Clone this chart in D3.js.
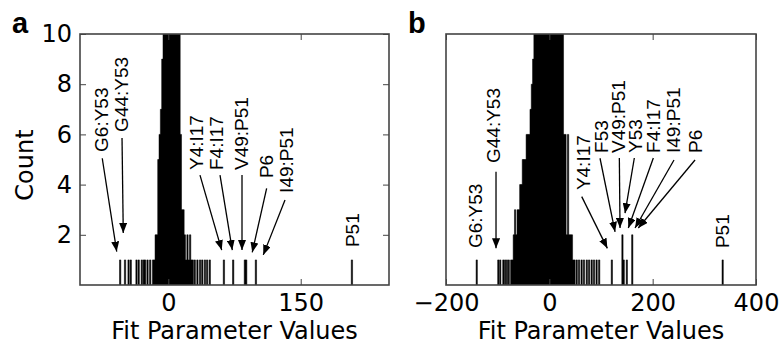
<!DOCTYPE html>
<html><head><meta charset="utf-8">
<script src="https://cdn.jsdelivr.net/npm/d3@7"></script>
<style>body{margin:0;background:#fff}svg{display:block}</style>
</head><body>
<script>
// ---------- data ----------
const yTicks = [2, 4, 6, 8, 10];
const xTicksA = [0, 150];
const xTicksB = [-200, 0, 200, 400];

// panel a histogram (bin centers / counts)
const aBinWidth = 1.5;
const aBinCenters = [-54.5, -49, -45, -42.5, -36, -33.5, -30, -27.75, -26.25, -23.5, -20.5,
  -17.25, -15.75, -14.25, -12.75, -11.25, -9.75, -8.25, -6.75,
  -5.25, -3.75, -2.25, -0.75, 0.75, 2.25, 3.75, 5.25, 6.75, 8.25, 9.75, 11.25, 12.75,
  14.25, 15.75, 17.25, 18.75, 20.25, 21.75, 23.25, 24.75, 26.25, 27.75,
  30, 33, 36, 38.5, 41.5, 44, 47,
  63, 73.5, 86.75, 88.25, 99.25, 208];
const aBinCounts = [1, 1, 1, 1, 1, 1, 1, 1, 1, 1, 1,
  1, 1, 2, 2, 5, 6, 7, 9,
  12, 16, 21, 26, 30, 33, 34, 32, 28, 23, 18, 14, 11,
  6, 3, 3, 2, 1, 2, 1, 2, 1, 1,
  1, 1, 1, 1, 1, 1, 1,
  1, 1, 1, 1, 1, 1];

// panel b histogram
const bBinWidth = 2.5;
const bBinCenters = [-140.5, -98.75, -95, -89, -85.5, -82, -78.5,
  -73.75, -71.25, -68.75, -66.25, -63.75, -61.25, -58.75, -56.25, -53.75, -51.25, -48.75, -46.25,
  -43.75, -41.25, -38.75, -36.25, -33.75, -31.25,
  -28.75, -26.25, -23.75, -21.25, -18.75, -16.25, -13.75, -11.25, -8.75, -6.25, -3.75, -1.25,
  1.25, 3.75, 6.25, 8.75, 11.25, 13.75, 16.25, 18.75, 21.25, 23.75, 26.25,
  28.75, 31.25, 33.75, 36.25, 38.75, 41.25, 43.75, 46.25, 48.75,
  53, 57.5, 62.5, 67, 72.5, 77, 82, 86.5, 91.5, 96.5,
  121, 141.5, 144, 150, 160.5, 335.5];
const bBinCounts = [1, 1, 1, 1, 1, 1, 1,
  1, 1, 2, 3, 2, 3, 3, 4, 4, 5, 5, 5,
  6, 6, 6, 7, 8, 9,
  11, 12, 14, 16, 19, 22, 25, 28, 31, 34, 36, 37,
  36, 34, 31, 28, 25, 22, 19, 16, 14, 12, 11,
  6, 6, 2, 6, 2, 2, 2, 1, 1,
  1, 1, 1, 1, 1, 1, 1, 1, 1, 1,
  1, 2, 1, 1, 2, 1];

// annotations (data coordinates: text bottom point, arrow start, arrow end)
const aNoteLabels = ["G6:Y53", "G44:Y53", "Y4:I17", "F4:I17", "V49:P51", "P6", "I49:P51", "P51"];
const aNoteText = [[-75.4, 5.3], [-52.8, 6.1], [32.2, 4.58], [54.8, 4.58], [83.1, 4.58], [111.4, 4.26], [134.1, 3.67], [208.4, 1.51]];
const aNoteArrows = [[[-74.8, 5.05], [-58.4, 1.33]], [[-52.4, 5.86], [-51, 2.07]], [[35.9, 4.38], [60.5, 1.39]],
  [[58.6, 4.38], [72.5, 1.39]], [[83.5, 4.38], [83.5, 1.39]], [[111.4, 3.85], [95.1, 1.3]], [[132.2, 3.39], [107.6, 1.2]], null];

const bNoteLabels = ["G6:Y53", "G44:Y53", "Y4:I17", "F53", "V49:P51", "Y53", "F4:I17", "I49:P51", "P6", "P51"];
const bNoteText = [[-143.8, 1.47], [-108.4, 4.86], [65.8, 3.78], [101.4, 5.26], [133.5, 5.26], [165.9, 5.26], [201.3, 5.26], [240, 5.26], [282, 5.26], [335.6, 1.47]];
const bNoteArrows = [null, [[-103.2, 4.51], [-103.2, 1.46]], [[62.7, 3.52], [112.3, 1.46]], [[98.1, 5.05], [127.2, 2.12]],
  [[135.5, 5.06], [136.8, 2.27]], [[164.5, 5.06], [146.5, 2.86]], [[201.3, 5.06], [152.9, 2.27]],
  [[241.3, 4.98], [165.9, 2.27]], [[282, 4.98], [172.2, 2.27]], null];

// ---------- drawing ----------
const W = 779, H = 346;
const svg = d3.select("body").append("svg").attr("width", W).attr("height", H);
const defs = svg.append("defs");
defs.append("marker").attr("id", "ah").attr("viewBox", "0 0 10 8").attr("refX", 10).attr("refY", 4)
  .attr("markerWidth", 10).attr("markerHeight", 8).attr("markerUnits", "userSpaceOnUse").attr("orient", "auto")
  .append("path").attr("d", "M0,0L10,4L0,8Z").attr("fill", "#000");

const TICKFONT = "DejaVu Sans, sans-serif";
const NOTEFONT = "Liberation Sans, Arial, sans-serif";
const FS = 24;
const NFS = 19;
const y = d3.scaleLinear().domain([0, 10]).range([285, 34]);

function panel(id, xDomain, xRange, xTicks, centers, counts, bw, labels, texts, arrows, showY) {
  const x = d3.scaleLinear().domain(xDomain).range(xRange);
  const g = svg.append("g");
  defs.append("clipPath").attr("id", "clip" + id).append("rect")
    .attr("x", xRange[0]).attr("y", y(10)).attr("width", xRange[1] - xRange[0]).attr("height", y(0) - y(10));
  // all histogram bars as one path (no anti-aliasing seams between neighbouring bins)
  const barsD = centers.map((c, i) => {
    const x0 = x(c - bw / 2), x1 = x(c + bw / 2), y1 = y(counts[i]), y0 = y(0);
    return `M${x0},${y0}V${y1}H${x1}V${y0}Z`;
  }).join("");
  g.append("g").attr("clip-path", `url(#clip${id})`).append("path").attr("class", "bars")
    .attr("d", barsD).attr("fill", "#000").attr("stroke", "#000").attr("stroke-width", 0.5);

  // axes
  const bottom = g.append("g").attr("transform", `translate(0,${y(0)})`)
    .call(d3.axisBottom(x).tickValues(xTicks).tickSizeInner(-6).tickSizeOuter(0).tickPadding(9)
      .tickFormat(d => d < 0 ? "\u2212" + Math.abs(d) : d));
  const top = g.append("g").attr("transform", `translate(0,${y(10)})`)
    .call(d3.axisTop(x).tickValues(xTicks).tickSizeInner(-6).tickSizeOuter(0).tickFormat(""));
  const axes = [bottom, top];
  if (showY) {
    axes.push(g.append("g").attr("transform", `translate(${xRange[0]},0)`)
      .call(d3.axisLeft(y).tickValues(yTicks).tickSizeInner(-6).tickSizeOuter(0).tickPadding(8)));
    axes.push(g.append("g").attr("transform", `translate(${xRange[1]},0)`)
      .call(d3.axisRight(y).tickValues(yTicks).tickSizeInner(-6).tickSizeOuter(0).tickFormat("")));
  }
  axes.forEach(a => {
    a.select(".domain").remove();
    a.selectAll("line").attr("stroke", "#444").attr("stroke-width", 1);
    a.selectAll("text").attr("font-family", TICKFONT).attr("font-size", FS).attr("fill", "#000");
  });
  // frame
  g.append("rect").attr("x", xRange[0]).attr("y", y(10)).attr("width", xRange[1] - xRange[0])
    .attr("height", y(0) - y(10)).attr("fill", "none").attr("stroke", "#444").attr("stroke-width", 1.6);

  // annotations
  labels.forEach((lab, i) => {
    const tx = x(texts[i][0]) + 6.7, ty = y(texts[i][1]);
    g.append("text").attr("transform", `translate(${tx},${ty}) rotate(-90)`)
      .attr("font-family", NOTEFONT).attr("font-size", NFS).attr("fill", "#000").text(lab);
    if (arrows[i]) {
      const [p0, p1] = arrows[i];
      g.append("line").attr("x1", x(p0[0])).attr("y1", y(p0[1])).attr("x2", x(p1[0])).attr("y2", y(p1[1]))
        .attr("stroke", "#000").attr("stroke-width", 1.3).attr("marker-end", "url(#ah)");
    }
  });

  // x label
  g.append("text").attr("x", (xRange[0] + xRange[1]) / 2).attr("y", 339).attr("text-anchor", "middle")
    .attr("font-family", TICKFONT).attr("font-size", FS).attr("fill", "#000").text("Fit Parameter Values");
  return x;
}

panel("a", [-100, 250], [80, 389], xTicksA, aBinCenters, aBinCounts, aBinWidth, aNoteLabels, aNoteText, aNoteArrows, true);
panel("b", [-200, 400], [446, 756], xTicksB, bBinCenters, bBinCounts, bBinWidth, bNoteLabels, bNoteText, bNoteArrows, false);

svg.append("text").attr("transform", "translate(33,165) rotate(-90)").attr("text-anchor", "middle")
  .attr("font-family", TICKFONT).attr("font-size", FS).attr("fill", "#000").text("Count");
svg.append("text").attr("x", 12).attr("y", 33).attr("font-family", NOTEFONT).attr("font-weight", "bold")
  .attr("font-size", 29).attr("fill", "#000").text("a");
svg.append("text").attr("x", 408).attr("y", 33).attr("font-family", NOTEFONT).attr("font-weight", "bold")
  .attr("font-size", 29).attr("fill", "#000").text("b");
</script>
</body></html>
